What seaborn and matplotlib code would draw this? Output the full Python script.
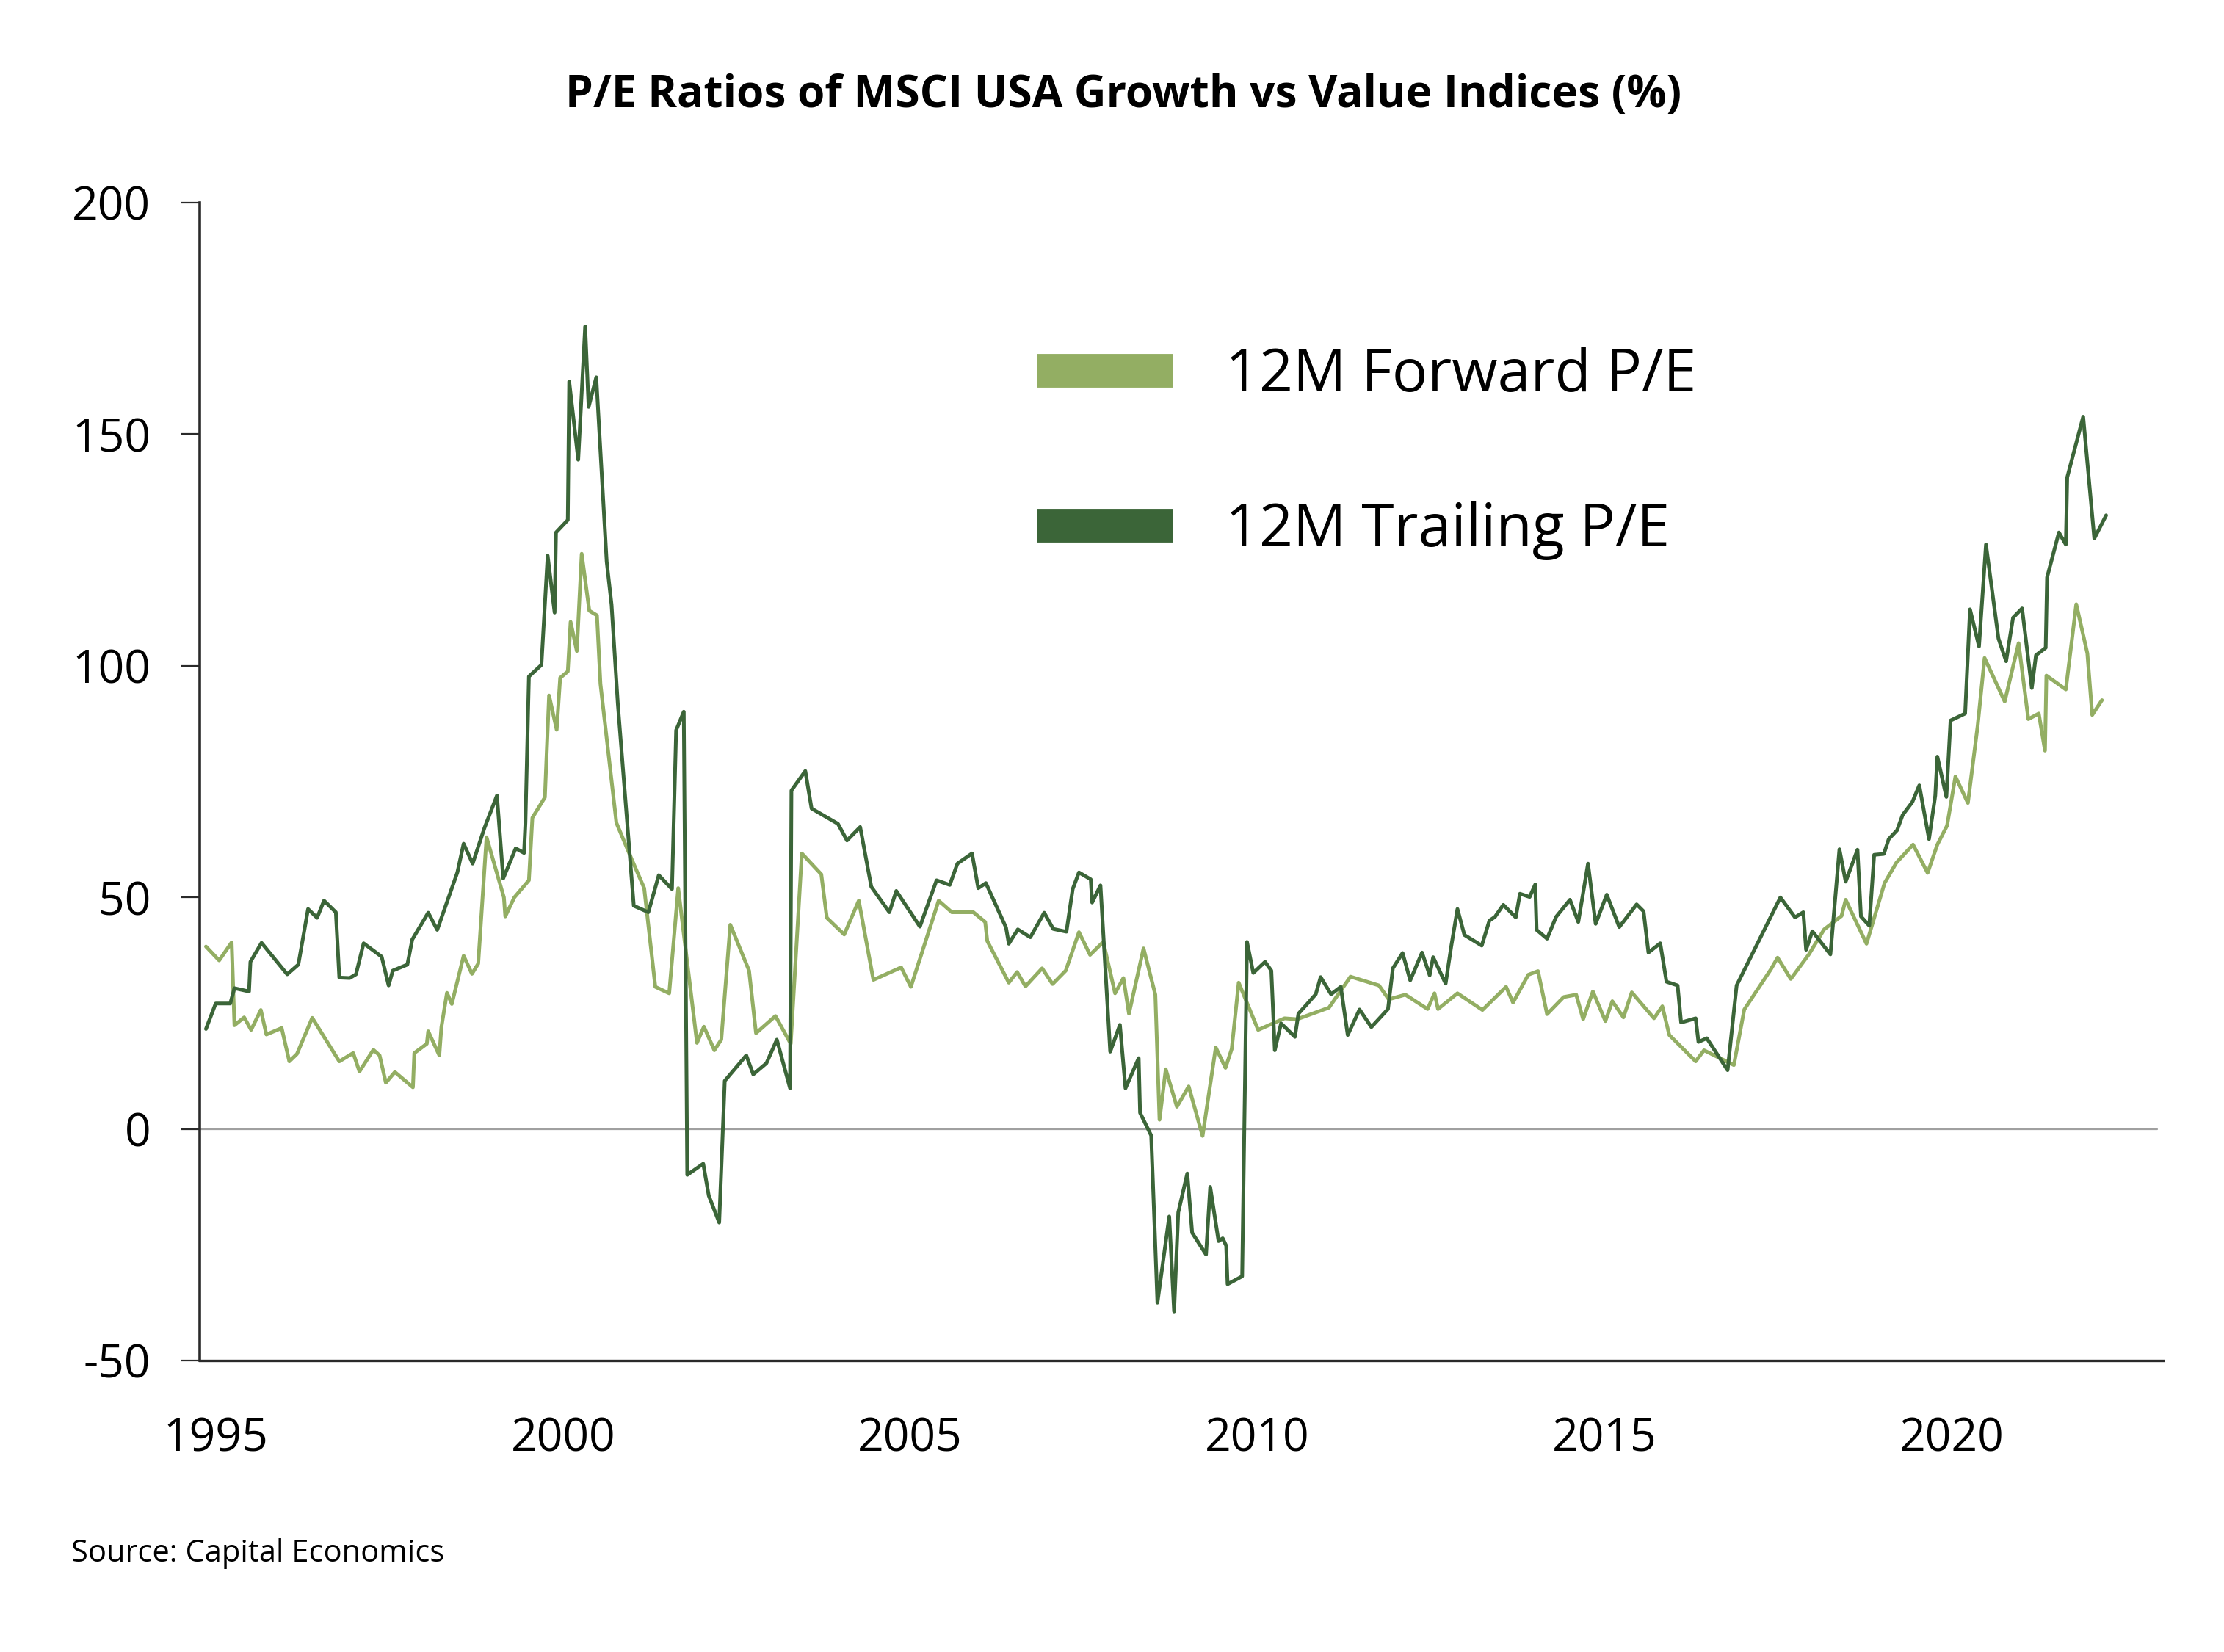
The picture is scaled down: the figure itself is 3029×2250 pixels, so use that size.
import matplotlib
matplotlib.use('Agg')
import matplotlib.pyplot as plt
from matplotlib.lines import Line2D
import pandas as pd
import seaborn as sns

# 12M forward P/E (growth vs value)
fwd_years = [1994.86, 1995.05, 1995.23, 1995.27, 1995.41, 1995.51, 1995.65, 1995.73, 1995.95, 1996.06,
             1996.17, 1996.39, 1996.78, 1996.98, 1997.07, 1997.27, 1997.36, 1997.45, 1997.58, 1997.84,
             1997.86, 1998.04, 1998.06, 1998.22, 1998.25, 1998.33, 1998.40, 1998.57, 1998.69, 1998.78,
             1998.90, 1999.15, 1999.17, 1999.30, 1999.51, 1999.56, 1999.74, 1999.80, 1999.91, 1999.96,
             2000.07, 2000.11, 2000.20, 2000.27, 2000.38, 2000.49, 2000.54, 2000.77, 2000.98, 2001.17,
             2001.33, 2001.53, 2001.66, 2001.93, 2002.03, 2002.18, 2002.28, 2002.41, 2002.68, 2002.78,
             2003.06, 2003.28, 2003.44, 2003.72, 2003.80, 2004.05, 2004.26, 2004.47, 2004.87, 2005.01,
             2005.41, 2005.60, 2005.91, 2006.08, 2006.11, 2006.42, 2006.54, 2006.66, 2006.90, 2007.05,
             2007.24, 2007.43, 2007.59, 2007.78, 2007.95, 2008.07, 2008.15, 2008.36, 2008.53, 2008.59,
             2008.68, 2008.84, 2009.01, 2009.21, 2009.40, 2009.54, 2009.63, 2009.73, 2010.01, 2010.39,
             2010.57, 2011.03, 2011.34, 2011.75, 2011.89, 2012.13, 2012.45, 2012.55, 2012.60, 2012.88,
             2013.24, 2013.58, 2013.68, 2013.90, 2014.04, 2014.17, 2014.41, 2014.59, 2014.69, 2014.83,
             2015.01, 2015.11, 2015.27, 2015.39, 2015.71, 2015.83, 2015.93, 2016.31, 2016.43, 2016.86,
             2017.01, 2017.39, 2017.49, 2017.68, 2017.94, 2018.16, 2018.41, 2018.47, 2018.77, 2019.03,
             2019.20, 2019.44, 2019.65, 2019.79, 2019.93, 2020.05, 2020.23, 2020.37, 2020.47, 2020.76,
             2020.96, 2021.10, 2021.25, 2021.34, 2021.36, 2021.64, 2021.79, 2021.95, 2022.02, 2022.16]
fwd_values = [39.4, 36.4, 40.3, 22.4, 24.1, 21.4, 25.7, 20.4, 21.8, 14.6,
              16.2, 24.0, 14.6, 16.4, 12.4, 17.1, 15.9, 10.0, 12.3, 9.0,
              16.4, 18.4, 21.1, 15.9, 22.0, 29.4, 27.0, 37.4, 33.5, 35.7,
              63.0, 50.0, 45.9, 50.0, 53.7, 67.2, 71.6, 93.6, 86.2, 97.4,
              98.8, 109.5, 103.2, 124.2, 111.9, 110.9, 96.1, 66.1, 58.6, 52.0,
              30.7, 29.3, 52.0, 18.6, 22.1, 17.0, 19.3, 44.1, 34.2, 20.7,
              24.4, 18.4, 59.5, 55.0, 45.6, 42.0, 49.3, 32.2, 34.9, 30.7,
              49.3, 46.8, 46.8, 44.7, 40.6, 31.6, 33.9, 30.8, 34.7, 31.3,
              34.2, 42.5, 37.6, 40.4, 29.3, 32.6, 24.9, 39.0, 29.0, 2.0,
              12.9, 4.8, 9.2, -1.5, 17.6, 13.2, 17.3, 31.6, 21.4, 23.9,
              23.7, 26.2, 32.9, 31.0, 28.0, 29.0, 25.9, 29.3, 25.9, 29.3,
              25.7, 30.7, 27.3, 33.3, 34.1, 24.8, 28.5, 29.0, 23.7, 29.7,
              23.3, 27.6, 24.1, 29.5, 23.9, 26.5, 20.3, 14.6, 17.0, 13.8,
              25.8, 34.4, 37.0, 32.4, 37.7, 43.1, 46.0, 49.5, 40.0, 53.1,
              57.5, 61.4, 55.3, 61.4, 65.5, 76.1, 70.4, 87.0, 101.7, 92.3,
              104.9, 88.5, 89.7, 81.7, 97.9, 94.9, 113.3, 102.7, 89.4, 92.6]

# 12M trailing P/E
trail_years = [1994.86, 1995.00, 1995.21, 1995.27, 1995.48, 1995.50, 1995.66, 1996.03, 1996.19, 1996.33,
               1996.46, 1996.56, 1996.73, 1996.78, 1996.93, 1997.02, 1997.13, 1997.39, 1997.49, 1997.55,
               1997.76, 1997.83, 1998.06, 1998.19, 1998.48, 1998.57, 1998.70, 1998.87, 1999.05, 1999.14,
               1999.32, 1999.44, 1999.46, 1999.51, 1999.69, 1999.78, 1999.88, 1999.90, 2000.07, 2000.09,
               2000.22, 2000.32, 2000.37, 2000.48, 2000.63, 2000.70, 2000.79, 2001.02, 2001.23, 2001.38,
               2001.57, 2001.63, 2001.74, 2001.79, 2002.02, 2002.10, 2002.25, 2002.33, 2002.64, 2002.74,
               2002.93, 2003.08, 2003.27, 2003.29, 2003.49, 2003.58, 2003.96, 2004.09, 2004.28, 2004.44,
               2004.70, 2004.80, 2005.14, 2005.38, 2005.57, 2005.68, 2005.89, 2005.98, 2006.09, 2006.38,
               2006.42, 2006.55, 2006.73, 2006.93, 2007.06, 2007.25, 2007.34, 2007.43, 2007.60, 2007.62,
               2007.74, 2007.88, 2008.02, 2008.10, 2008.29, 2008.31, 2008.47, 2008.56, 2008.73, 2008.80,
               2008.86, 2008.99, 2009.06, 2009.26, 2009.32, 2009.44, 2009.50, 2009.55, 2009.57, 2009.78,
               2009.85, 2009.94, 2010.11, 2010.20, 2010.25, 2010.34, 2010.54, 2010.59, 2010.71, 2010.84,
               2010.91, 2011.06, 2011.20, 2011.30, 2011.47, 2011.64, 2011.88, 2011.95, 2012.09, 2012.20,
               2012.37, 2012.48, 2012.53, 2012.71, 2012.79, 2012.88, 2012.98, 2013.23, 2013.34, 2013.42,
               2013.54, 2013.72, 2013.78, 2013.92, 2014.00, 2014.02, 2014.17, 2014.30, 2014.50, 2014.62,
               2014.76, 2014.87, 2015.03, 2015.21, 2015.46, 2015.56, 2015.63, 2015.80, 2015.89, 2016.05,
               2016.10, 2016.31, 2016.35, 2016.47, 2016.77, 2016.90, 2017.53, 2017.74, 2017.86, 2017.90,
               2017.99, 2018.25, 2018.38, 2018.47, 2018.64, 2018.69, 2018.81, 2018.88, 2019.02, 2019.09,
               2019.21, 2019.29, 2019.43, 2019.53, 2019.67, 2019.76, 2019.79, 2019.92, 2019.98, 2020.19,
               2020.26, 2020.39, 2020.49, 2020.67, 2020.78, 2020.88, 2021.01, 2021.15, 2021.21, 2021.35,
               2021.37, 2021.54, 2021.64, 2021.66, 2021.89, 2022.05, 2022.22]
trail_values = [21.6, 27.1, 27.1, 30.4, 29.7, 36.1, 40.2, 33.4, 35.5, 47.5,
                45.6, 49.3, 46.8, 32.7, 32.6, 33.4, 40.1, 37.2, 31.0, 34.2,
                35.5, 40.9, 46.7, 43.0, 55.4, 61.6, 57.3, 65.0, 72.0, 54.1,
                60.6, 59.6, 66.1, 97.7, 100.2, 123.8, 111.5, 128.8, 131.5, 161.4,
                144.5, 173.3, 155.9, 162.3, 122.5, 113.2, 91.9, 48.2, 46.8, 54.8,
                51.8, 86.1, 90.1, -9.9, -7.5, -14.4, -20.2, 10.4, 15.9, 11.8,
                14.2, 19.3, 8.8, 73.1, 77.3, 69.2, 65.9, 62.3, 65.2, 52.3,
                46.8, 51.4, 43.7, 53.7, 52.7, 57.3, 59.5, 52.0, 53.1, 43.5,
                40.0, 43.1, 41.4, 46.7, 43.2, 42.6, 51.8, 55.4, 53.9, 48.9,
                52.6, 16.7, 22.5, 8.8, 15.3, 3.5, -1.4, -37.5, -18.9, -39.4,
                -18.0, -9.6, -22.4, -27.1, -12.5, -24.2, -23.6, -25.2, -33.5, -31.8,
                40.4, 33.7, 36.1, 34.2, 17.0, 22.8, 19.9, 24.9, 26.9, 29.1,
                32.8, 29.1, 30.7, 20.3, 25.8, 22.0, 25.9, 34.7, 38.0, 32.1,
                38.1, 33.2, 37.1, 31.4, 39.4, 47.5, 41.9, 39.6, 45.0, 45.8,
                48.4, 45.7, 50.8, 50.1, 52.8, 43.0, 41.1, 45.8, 49.5, 44.7,
                57.3, 44.3, 50.6, 43.6, 48.5, 47.0, 38.1, 40.1, 31.8, 31.0,
                23.0, 23.9, 18.8, 19.6, 12.7, 31.0, 50.0, 45.7, 46.8, 38.7,
                42.7, 37.7, 60.4, 53.4, 60.3, 45.9, 43.9, 59.2, 59.4, 62.6,
                64.5, 67.8, 70.6, 74.2, 62.6, 72.0, 80.4, 71.7, 88.2, 89.7,
                112.2, 104.2, 126.2, 105.9, 101.0, 110.4, 112.4, 95.2, 102.3, 103.9,
                119.1, 128.8, 126.2, 140.7, 153.8, 127.5, 132.5]

year_ticks = [1995, 2000, 2005, 2010, 2015, 2020]
value_ticks = [-50, 0, 50, 100, 150, 200]
series_names = ['12M Forward P/E', '12M Trailing P/E']
series_colors = ['#93ae63', '#3b6538']

df_fwd = pd.DataFrame({'year': fwd_years, 'value': fwd_values})
df_trail = pd.DataFrame({'year': trail_years, 'value': trail_values})

sns.set_style('white')
plt.rcParams['font.family'] = ['Open Sans', 'DejaVu Sans']
plt.rcParams['text.color'] = 'black'
plt.rcParams['xtick.color'] = 'black'
plt.rcParams['ytick.color'] = 'black'

fig = plt.figure(figsize=(30.29, 22.5), dpi=100)
ax = fig.add_axes([0.0898, 0.1764, 0.8828, 0.7009])

ax.axhline(0, color='#a0a0a0', lw=1.6, xmax=0.997, zorder=1)

sns.lineplot(data=df_fwd, x='year', y='value', color=series_colors[0], lw=3.6,
             estimator=None, ax=ax, zorder=3)
sns.lineplot(data=df_trail, x='year', y='value', color=series_colors[1], lw=3.6,
             estimator=None, ax=ax, zorder=3)

ax.set_xlim(1994.77, 2023.04)
ax.set_ylim(-50, 200)
ax.set_xticks(year_ticks)
ax.set_xticklabels([str(y) for y in year_ticks])
ax.set_yticks(value_ticks)
ax.set_yticklabels([str(v) for v in value_ticks])
ax.set_xlabel('')
ax.set_ylabel('')

for side in ['top', 'right']:
    ax.spines[side].set_visible(False)
ax.spines['left'].set_color('#2a2a2a')
ax.spines['left'].set_linewidth(2.6)
ax.spines['bottom'].set_color('#2a2a2a')
ax.spines['bottom'].set_linewidth(2.4)

ax.tick_params(axis='y', direction='out', length=18, width=1.6, color='#2a2a2a',
               labelsize=45, pad=30, left=True, labelcolor='black')
ax.tick_params(axis='x', length=0, labelsize=45, pad=55, labelcolor='black')

handles = [Line2D([0], [0], color=c, lw=33, solid_capstyle='butt') for c in series_colors]
fig.legend(handles, series_names, loc='upper left', bbox_to_anchor=(0.466, 0.7905),
           frameon=False, fontsize=58, handlelength=2.3, handletextpad=0.9,
           labelspacing=1.62, borderpad=0, borderaxespad=0, labelcolor='black')

fig.text(0.505, 0.942, 'P/E Ratios of MSCI USA Growth vs Value Indices (%)',
         ha='center', va='center', fontsize=43.5, fontweight='bold', color='black')
fig.text(0.032, 0.0595, 'Source: Capital Economics', ha='left', va='center',
         fontsize=30, color='black')

fig.savefig('out.png', dpi=100, facecolor='white')
